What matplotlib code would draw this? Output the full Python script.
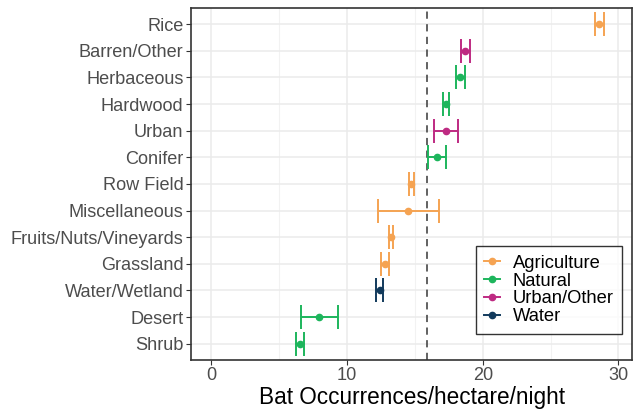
import matplotlib
matplotlib.use('Agg')
import matplotlib.pyplot as plt
from matplotlib.lines import Line2D
from matplotlib.ticker import MultipleLocator

plt.rcParams['font.family'] = ['Liberation Sans', 'DejaVu Sans']

# data, top to bottom as in the chart
labels = ['Rice', 'Barren/Other', 'Herbaceous', 'Hardwood', 'Urban', 'Conifer',
          'Row Field', 'Miscellaneous', 'Fruits/Nuts/Vineyards', 'Grassland',
          'Water/Wetland', 'Desert', 'Shrub']
means = [28.6, 18.7, 18.35, 17.3, 17.3, 16.6, 14.73, 14.46, 13.25, 12.76, 12.4, 7.95, 6.5]
lower = [28.28, 18.39, 18.0, 17.1, 16.4, 15.95, 14.56, 12.25, 13.1, 12.5, 12.13, 6.6, 6.26]
upper = [28.94, 19.07, 18.7, 17.5, 18.2, 17.3, 14.93, 16.75, 13.4, 13.06, 12.67, 9.3, 6.8]
groups = ['Agriculture', 'Urban/Other', 'Natural', 'Natural', 'Urban/Other', 'Natural',
          'Agriculture', 'Agriculture', 'Agriculture', 'Agriculture', 'Water',
          'Natural', 'Natural']
overall_mean = 15.9

colors = {'Agriculture': '#F5A352', 'Natural': '#1DB55C',
          'Urban/Other': '#BE2A82', 'Water': '#123A5C'}

fig, ax = plt.subplots(figsize=(6.37, 4.11), dpi=100)
fig.subplots_adjust(left=0.30, right=0.992, top=0.98, bottom=0.125)

n = len(labels)
for i, lab in enumerate(labels):
    y = n - 1 - i
    c = colors[groups[i]]
    ax.errorbar(means[i], y, xerr=[[means[i] - lower[i]], [upper[i] - means[i]]],
                fmt='o', color=c, ms=4.5, elinewidth=1.4, capsize=8.8,
                capthick=1.4, zorder=3)

ax.axvline(overall_mean, color='#555555', ls=(0, (4, 3)), lw=1.3, zorder=2)

ax.set_yticks(range(n))
ax.set_yticklabels(labels[::-1])
ax.set_ylim(-0.6, n - 0.4)
ax.set_xlim(-1.5, 31.0)
ax.xaxis.set_major_locator(MultipleLocator(10))
ax.xaxis.set_minor_locator(MultipleLocator(5))
ax.grid(True, which='major', color='#EBEBEB', lw=1.1, zorder=0)
ax.grid(True, which='minor', axis='x', color='#F2F2F2', lw=0.8, zorder=0)
ax.set_axisbelow(True)
ax.tick_params(axis='both', which='major', labelsize=13.1, colors='#333333',
               labelcolor='#4D4D4D', length=3.5, width=0.8, pad=2)
ax.tick_params(axis='x', which='minor', length=0)
for s in ax.spines.values():
    s.set_color('#333333')
    s.set_linewidth(1.2)
ax.set_xlabel('Bat Occurrences/hectare/night', fontsize=16.3, color='black', labelpad=1)

handles = [Line2D([0], [0], color=colors[g], marker='o', ms=4.5, lw=1.4)
           for g in ['Agriculture', 'Natural', 'Urban/Other', 'Water']]
leg = ax.legend(handles, ['Agriculture', 'Natural', 'Urban/Other', 'Water'],
                loc='lower right', bbox_to_anchor=(0.977, 0.074), fontsize=13.2,
                frameon=True, fancybox=False, edgecolor='black', handlelength=0.85,
                labelspacing=0.05, borderpad=0.45, handletextpad=0.7,
                borderaxespad=0)
leg.get_frame().set_linewidth(1.0)

fig.savefig('out.png', dpi=100)
